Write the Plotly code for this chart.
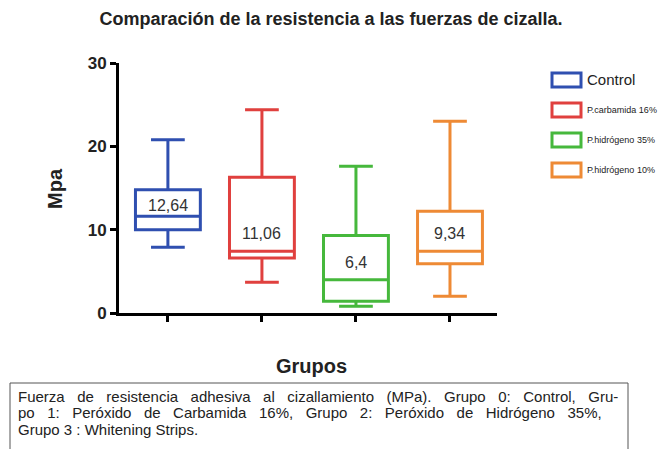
import plotly.graph_objects as go

# ---- data ----
groups = ["Control", "P.carbamida 16%", "P.hidrógeno 35%", "P.hidrógeno 10%"]
x_pos = [0, 1, 2, 3]
lower = [7.9, 3.7, 0.8, 2.0]
q1 = [10.0, 6.6, 1.4, 5.9]
median = [11.6, 7.4, 4.0, 7.4]
q3 = [14.8, 16.3, 9.3, 12.2]
upper = [20.8, 24.4, 17.6, 23.0]
mean_labels = ["12,64", "11,06", "6,4", "9,34"]
label_y = [12.9, 9.5, 6.1, 9.6]
colors = ["#2f4fb0", "#e0403e", "#46b83c", "#ee8a35"]
y_ticks = [0, 10, 20, 30]

FONT = "Liberation Sans, Arial"

fig = go.Figure()
for i in range(len(groups)):
    fig.add_trace(go.Box(
        x=[x_pos[i]], q1=[q1[i]], median=[median[i]], q3=[q3[i]],
        lowerfence=[lower[i]], upperfence=[upper[i]],
        name=groups[i], width=0.69, whiskerwidth=0.52,
        line=dict(color=colors[i], width=3), fillcolor="white",
        boxpoints=False, showlegend=False, hoverinfo="skip",
    ))
    fig.add_annotation(x=x_pos[i], y=label_y[i], text=mean_labels[i], showarrow=False,
                       font=dict(size=16, color="#333333", family=FONT))

# manual legend (sizes as in the original)
leg_font_sizes = [15, 9, 9, 9]
for i in range(len(groups)):
    yc = 80 + 30 * i
    fig.add_shape(type="rect", xref="paper", yref="paper",
                  x0=(552 - 119) / 378, x1=(581 - 119) / 378,
                  y0=(313 - (yc + 7)) / 250, y1=(313 - (yc - 7)) / 250,
                  line=dict(color=colors[i], width=3), fillcolor="white")
    fig.add_annotation(xref="paper", yref="paper", x=(585 - 119) / 378, y=(313 - yc) / 250,
                       xanchor="left", yanchor="middle", text=groups[i], showarrow=False,
                       font=dict(size=leg_font_sizes[i], color="#222222", family=FONT))

# caption box
fig.add_shape(type="rect", xref="paper", yref="paper",
              x0=(10 - 119) / 378, x1=(628 - 119) / 378,
              y0=(313 - 452) / 250, y1=(313 - 383) / 250,
              line=dict(color="#555555", width=1), fillcolor="rgba(0,0,0,0)")
caption_lines = [
    "Fuerza de resistencia adhesiva al cizallamiento (MPa). Grupo 0: Control, Gru-",
    "po 1: Peróxido de Carbamida 16%, Grupo 2: Peróxido de Hidrógeno 35%,",
    "Grupo 3 : Whitening Strips.",
]
caption_extra_spaces = [2, 2, 0]


def spread(line, n):
    return (" " + "\u00a0" * n).join(line.split(" "))


for k, line in enumerate(caption_lines):
    fig.add_annotation(xref="paper", yref="paper", x=(17 - 119) / 378,
                       y=(313 - (396 + 16.5 * k)) / 250, xanchor="left", yanchor="middle",
                       text=spread(line, caption_extra_spaces[k]), showarrow=False,
                       borderpad=0,
                       font=dict(size=15, color="#222222", family=FONT))

# axis titles
fig.add_annotation(xref="paper", yref="paper", x=(311 - 119) / 378, y=(313 - 366) / 250,
                   text="<b>Grupos</b>", showarrow=False, xanchor="center", yanchor="middle",
                   font=dict(size=20, color="#222222", family=FONT))
fig.add_annotation(xref="paper", yref="paper", x=(55 - 119) / 378, y=(313 - 189) / 250,
                   text="<b>Mpa</b>", showarrow=False, textangle=-90, xanchor="center", yanchor="middle",
                   font=dict(size=20, color="#222222", family=FONT))

fig.update_layout(
    width=663, height=449,
    margin=dict(l=119, r=166, t=63, b=136),
    paper_bgcolor="white", plot_bgcolor="white",
    title=dict(text="<b>Comparación de la resistencia a las fuerzas de cizalla.</b>",
               x=331 / 663, xanchor="center", y=1 - 19 / 449, yanchor="middle",
               font=dict(size=18, color="#222222", family=FONT)),
    xaxis=dict(range=[-0.52, 3.5], tickmode="array", tickvals=x_pos, ticktext=["", "", "", ""],
               showgrid=False, zeroline=False, showline=True, linecolor="black", linewidth=3,
               ticks="outside", ticklen=6, tickwidth=3, tickcolor="black", fixedrange=True),
    yaxis=dict(range=[0, 30], tickmode="array", tickvals=y_ticks,
               ticktext=["<b>%d</b>" % v for v in y_ticks],
               showgrid=False, zeroline=False, showline=True, linecolor="black", linewidth=3,
               ticks="outside", ticklen=6, tickwidth=3, tickcolor="black",
               tickfont=dict(size=17, color="#222222", family=FONT)),
)

fig.write_html("out.html", config={"displayModeBar": False},
               post_script="document.body.style.margin='0';")
